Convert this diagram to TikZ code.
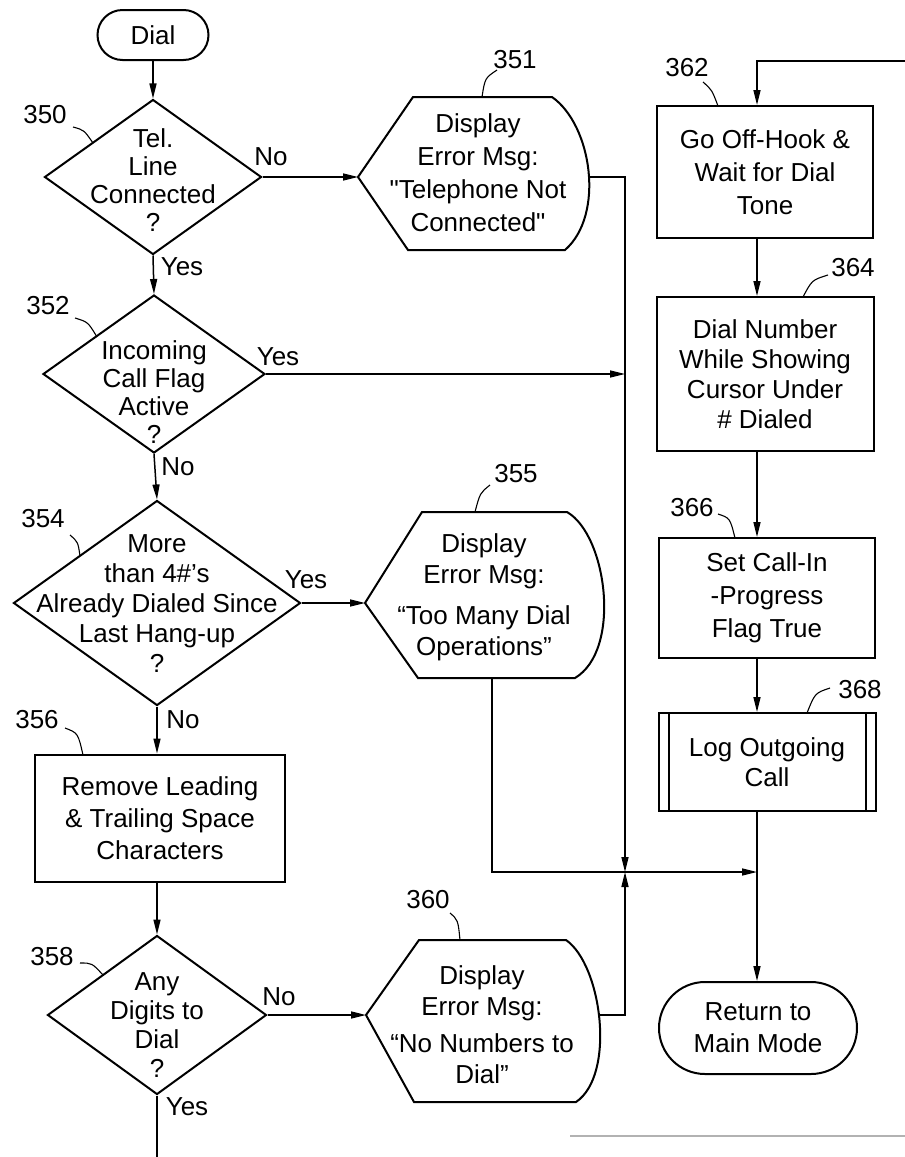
\documentclass[tikz,border=0pt]{standalone}
\usepackage{fontspec}
\setmainfont{Liberation Sans}
\usetikzlibrary{arrows.meta,shapes.geometric}
\begin{document}
\begin{tikzpicture}[x=1pt,y=-1pt,
  every node/.style={font=\fontsize{26}{28}\selectfont},
  shp/.style={draw, line width=2pt},
  dia/.style={shp, diamond, inner sep=0pt},
  boxs/.style={shp, rectangle, inner sep=0pt, align=center, font=\fontsize{26}{32}\selectfont},
  term/.style={shp, rectangle, inner sep=0pt, align=center, font=\fontsize{26}{32}\selectfont},
  dtxt/.style={align=center, inner sep=0pt, font=\fontsize{26}{28}\selectfont},
  htxt/.style={align=center, inner sep=0pt, font=\fontsize{26}{32}\selectfont},
  lbl/.style={inner sep=0pt},
  conn/.style={line width=1.5pt},
  arr/.style={conn, -{Triangle[length=15pt,width=7pt]}},
  lead/.style={line width=1.1pt},
]
\useasboundingbox (0,0) rectangle (905,1157);

% ---------- coordinates ----------
\coordinate (col) at (757,0);
\coordinate (junc) at (625,872);
\coordinate (topin) at (905,61);
\coordinate (bottomedge) at (0,1157);

% ---------- left column ----------
\node[term, minimum width=111pt, minimum height=50pt, rounded corners=25pt] (dial) at (153,35) {Dial};

\node[dia, minimum width=217pt, minimum height=155pt] (q350) at (153,177) {};
\node[dtxt] (t350) at (153,180) {Tel.\\Line\\Connected\\?};

\node[dia, minimum width=222pt, minimum height=158pt] (q352) at (154,374) {};
\node[dtxt] (t352) at (154,392) {Incoming\\Call Flag\\Active\\?};

\node[dia, minimum width=287pt, minimum height=205pt] (q354) at (157,603) {};
\node[dtxt, font=\fontsize{26}{30}\selectfont] (t354) at (157,604) {More\\than 4\#'s\\Already Dialed Since\\Last Hang-up\\?};

\node[boxs, minimum width=250pt, minimum height=127pt] (b356) at (160,818) {Remove Leading\\\& Trailing Space\\Characters};

\node[dia, minimum width=219pt, minimum height=159pt] (q358) at (157,1015) {};
\node[dtxt, font=\fontsize{26}{29}\selectfont] (t358) at (157,1025) {Any\\Digits to\\Dial\\?};

% ---------- display shapes ----------
\coordinate (h351w) at (358,177);
\coordinate (h351e) at (588,177);
\draw[shp] (h351w) -- (413,97) -- (552,97) .. controls (592,125) and (605,215) .. (565,250) -- (408,250) -- cycle;
\node[htxt, font=\fontsize{26}{33}\selectfont] (t351) at (478,173) {Display\\Error Msg:\\\textquotedbl Telephone Not\\Connected\textquotedbl};

\coordinate (h355w) at (365,603);
\coordinate (h355s) at (492,678);
\draw[shp] (h355w) -- (422,512) -- (567,512) .. controls (607,535) and (622,650) .. (575,678) -- (418,678) -- cycle;
\node[htxt, font=\fontsize{26}{31}\selectfont] (t355) at (484,597) {Display\\Error Msg:\\[10pt]“Too Many Dial\\Operations”};

\coordinate (h360w) at (366,1015);
\coordinate (h360e) at (600,1015);
\draw[shp] (h360w) -- (419,940) -- (566,940) .. controls (602,965) and (616,1075) .. (576,1102) -- (414,1102) -- cycle;
\node[htxt, font=\fontsize{26}{31}\selectfont] (t360) at (482,1025) {Display\\Error Msg:\\[6pt]“No Numbers to\\Dial”};

% ---------- right column ----------
\node[boxs, minimum width=216pt, minimum height=132pt, font=\fontsize{26}{33}\selectfont] (b362) at (765,172) {Go Off-Hook \&\\Wait for Dial\\Tone};
\node[boxs, minimum width=217pt, minimum height=154pt, font=\fontsize{26}{30}\selectfont] (b364) at (765,374) {Dial Number\\While Showing\\Cursor Under\\\# Dialed};
\node[boxs, minimum width=216pt, minimum height=120pt, font=\fontsize{26}{33}\selectfont] (b366) at (767,598) {Set Call-In\\-Progress\\Flag True};
\node[boxs, minimum width=217pt, minimum height=98pt, font=\fontsize{26}{30}\selectfont] (b368) at (767,762) {Log Outgoing\\Call};
\draw[line width=2pt] ([xshift=11pt]b368.north west) -- ([xshift=11pt]b368.south west)
      ([xshift=-11pt]b368.north east) -- ([xshift=-11pt]b368.south east);
\node[term, minimum width=198pt, minimum height=92pt, rounded corners=46pt] (ret) at (758,1028) {Return to\\Main Mode};

% ---------- connectors ----------
\draw[arr] (dial) -- (q350);
\draw[arr] (q350.east) -- (h351w);
\draw[arr] (h351e) -- (junc |- h351e) -- (junc);
\draw[arr] (q350.south) -- (q352.north);
\draw[arr] (q352.east) -- (junc |- q352.east);
\draw[arr] (q352.south) -- (q354.north);
\draw[arr] (q354.east) -- (h355w);
\draw[arr] (q354.south) -- (q354.south |- b356.north);
\draw[arr] (q358.north |- b356.south) -- (q358.north);
\draw[arr] (q358.east) -- (h360w);
\draw[conn] (q358.south) -- (q358.south |- bottomedge);
\draw[arr] (h360e) -- (junc |- h360e) -- (junc);
\draw[arr] (h355s) -- (h355s |- junc) -- (col |- junc);
\draw[arr] (topin) -- (col |- topin) -- (col |- b362.north);
\draw[arr] (col |- b362.south) -- (col |- b364.north);
\draw[arr] (col |- b364.south) -- (col |- b366.north);
\draw[arr] (col |- b366.south) -- (col |- b368.north);
\draw[arr] (col |- b368.south) -- (col |- ret.north);

% ---------- yes / no ----------
\node[lbl] (y350) at (182,267) {Yes};
\node[lbl] (n350no) at (271,157) {No};
\node[lbl] (y352) at (278,357) {Yes};
\node[lbl] (n352no) at (178,467) {No};
\node[lbl] (y354) at (306,580) {Yes};
\node[lbl] (n354no) at (183,720) {No};
\node[lbl] (n358no) at (279,997) {No};
\node[lbl] (y358) at (187,1107) {Yes};

% ---------- reference numerals ----------
\node[lbl] (r350) at (45,115) {350};
\draw[lead] (73,127) .. controls (84,130) .. (93,143);
\node[lbl] (r351) at (515,60) {351};
\draw[lead] (497,70) .. controls (485,78) .. (482,97);
\node[lbl] (r352) at (48,306) {352};
\draw[lead] (75,318) .. controls (88,322) .. (97,337);
\node[lbl] (r354) at (43,519) {354};
\draw[lead] (70,535) .. controls (78,542) .. (80,556);
\node[lbl] (r355) at (516,474) {355};
\draw[lead] (490,485) .. controls (480,493) .. (475,512);
\node[lbl] (r356) at (37,720) {356};
\draw[lead] (65,728) .. controls (78,733) .. (83,755);
\node[lbl] (r358) at (52,957) {358};
\draw[lead] (80,963) .. controls (92,963) .. (103,975);
\node[lbl] (r360) at (428,900) {360};
\draw[lead] (450,913) .. controls (458,920) .. (460,940);
\node[lbl] (r362) at (687,68) {362};
\draw[lead] (703,82) .. controls (712,90) .. (718,106);
\node[lbl] (r364) at (853,268) {364};
\draw[lead] (828,275) .. controls (812,280) .. (803,297);
\node[lbl] (r366) at (692,508) {366};
\draw[lead] (718,514) .. controls (730,518) .. (735,538);
\node[lbl] (r368) at (860,690) {368};
\draw[lead] (830,688) .. controls (815,693) .. (807,713);

% ---------- page edge ----------
\draw[gray!60, line width=1.5pt] (570,1136) -- (905,1136);
\end{tikzpicture}
\end{document}
